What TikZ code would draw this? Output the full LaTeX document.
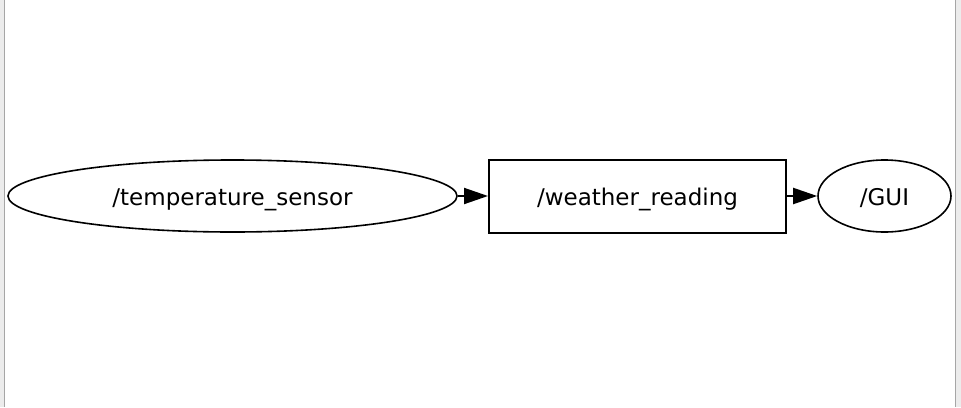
\documentclass[tikz,border=0pt]{standalone}
\usepackage{fontspec}
\setmainfont{DejaVu Sans}
\usetikzlibrary{shapes.geometric,arrows.meta}
\begin{document}
\begin{tikzpicture}[x=1pt,y=-1pt,
  nodetext/.style={font=\fontsize{23}{26}\selectfont, text=black, text height=23pt, text depth=5pt},
  ell/.style={ellipse, draw=black, line width=1.6pt, inner sep=0pt, nodetext},
  box/.style={rectangle, draw=black, line width=2pt, inner sep=0pt, nodetext},
  edge/.style={draw=black, line width=2pt, -{Triangle[length=24pt,width=16pt]}}]
\useasboundingbox (0,0) rectangle (961,407);
\fill[white] (0,0) rectangle (961,407);
\fill[gray!15] (0,0) rectangle (4,407);
\fill[gray!15] (956,0) rectangle (961,407);
\draw[gray!70, line width=1.2pt] (4.5,0) -- (4.5,407);
\draw[gray!70, line width=1.2pt] (955.5,0) -- (955.5,407);
\node[ell, minimum width=449pt, minimum height=72pt] (ts) at (232.5,196) {/temperature\_sensor};
\node[box, minimum width=297pt, minimum height=73pt] (wr) at (637.5,196) {/weather\_reading};
\node[ell, minimum width=133pt, minimum height=72pt] (gui) at (884.5,196) {/GUI};
\draw[edge] (ts) -- (wr);
\draw[edge] (wr) -- (gui);
\end{tikzpicture}
\end{document}
